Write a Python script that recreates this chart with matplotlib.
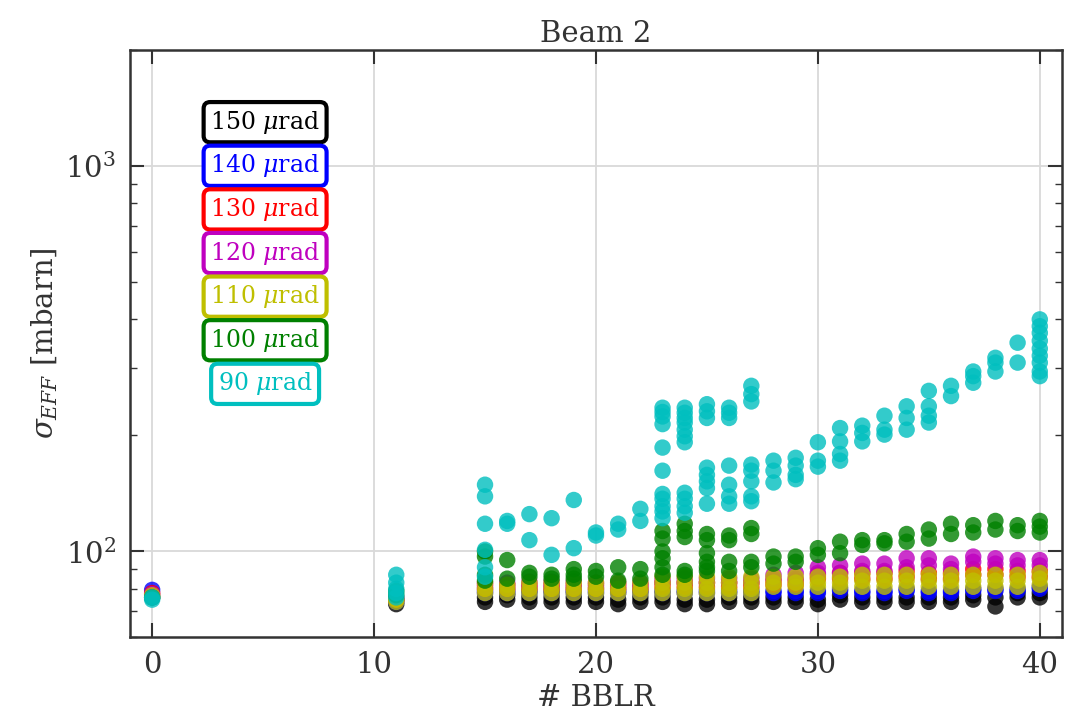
import matplotlib
matplotlib.use("Agg")
import matplotlib.pyplot as plt
from matplotlib.ticker import LogLocator, NullLocator

plt.rcParams['font.family'] = 'DejaVu Serif'
plt.rcParams['mathtext.fontset'] = 'dejavuserif'

# number of beam-beam long range encounters
bblr = [0, 11, 15, 16, 17, 18, 19, 20, 21, 22, 23, 24, 25, 26,
        27, 28, 29, 30, 31, 32, 33, 34, 35, 36, 37, 38, 39, 40]

# effective cross section [mbarn] per crossing angle, one list per bblr value
sig_150 = [[76], [73, 75], [74, 76], [75, 77], [74, 76], [74, 76], [74, 76],
           [74, 76], [73, 75], [74, 76], [74, 76], [73, 75], [73, 75], [74, 76],
           [74, 76], [74, 76], [74, 76], [73, 75], [75, 77], [74, 76], [74, 76],
           [74, 76], [74, 76], [74, 76], [75, 77], [72, 76], [76, 78], [76, 78]]
sig_140 = [[79.5], [74], [78, 79], [78, 79], [78, 79], [78, 79], [78, 79],
           [78, 79], [78, 79], [78, 79], [78, 79], [78, 79], [78, 79], [78, 79],
           [78, 79], [78, 79], [78, 79], [78, 79], [79, 80], [78, 79], [78, 79],
           [79, 80], [78, 79], [78, 79], [79, 80], [79, 80], [79, 80], [80, 81]]
sig_130 = [[78], [75], [82, 80], [82, 80], [82, 80], [82, 80], [82, 80],
           [82, 80], [82, 80], [82, 80], [83, 81], [83, 81], [83, 81], [83, 81],
           [83, 81], [84, 82], [84, 82], [87, 85], [88, 85], [88, 85], [88, 85],
           [89, 86], [88, 85], [88, 85], [90, 87], [90, 87], [89, 86], [89, 86]]
sig_120 = [[77.5], [76], [83, 81], [83, 81], [83.5, 81], [83.5, 81], [83.5, 81],
           [83, 81], [83, 81], [83, 81], [85, 83], [85, 83], [85, 83], [85, 83],
           [85, 83], [87, 85], [88, 85], [91, 88], [92, 88], [93, 89], [93, 89],
           [96, 91], [96, 92], [93, 90], [97, 94], [96, 93], [95, 92], [95, 92]]
sig_110 = [[77], [74, 75], [83, 80, 78], [82, 80, 78], [83, 80, 78], [83, 80, 78],
           [83, 80, 78], [83, 80, 78], [83, 80, 78], [83, 80, 78],
           [86, 83, 80, 78], [86, 83, 80, 78], [86, 83, 80, 78], [86, 83, 80, 78],
           [86, 83, 80, 78], [86, 83, 81], [86, 83, 81], [86, 83, 81], [86, 83, 81],
           [87, 84, 81], [87, 84, 81], [87, 84, 81], [87, 84, 81], [87, 84, 81],
           [87, 84, 81], [87, 84, 81], [87, 84, 81], [88, 85, 82]]
sig_100 = [[76], [77, 79], [100, 97, 87, 84], [95, 85], [88, 86], [87, 85],
           [90, 87, 85], [89, 86], [91, 84], [90, 85],
           [113, 108, 100, 96, 91, 87], [118, 113, 109, 89, 87],
           [111, 107, 99, 94, 91, 89], [110, 107, 94, 89], [115, 111, 94, 91],
           [97, 93], [97, 94], [102, 98], [106, 99], [107, 104], [107, 105],
           [111, 106], [114, 108], [118, 111], [117, 112], [120, 114], [117, 113],
           [120, 116, 112]]
sig_90 = [[75, 76], [76, 78, 80, 83, 87], [149, 139, 118, 101, 91, 86],
          [120, 118], [125, 107], [122, 98], [136, 102], [112, 110], [118, 114],
          [129, 120],
          [236, 230, 224, 214, 186, 162, 141, 137, 131, 127, 122],
          [236, 229, 222, 216, 207, 199, 192, 142, 137, 131, 126],
          [241, 231, 222, 165, 158, 152, 146, 133],
          [236, 229, 222, 167, 149, 139, 133],
          [269, 256, 245, 168, 162, 152, 139, 135],
          [172, 162, 151], [175, 167, 158, 154], [192, 172, 166],
          [209, 193, 179, 172], [212, 203, 193], [225, 207, 201],
          [238, 222, 207], [261, 238, 225, 216], [269, 253], [293, 285, 274],
          [318, 309, 293], [348, 309],
          [400, 384, 369, 352, 336, 322, 309, 293, 285]]

angles = [150, 140, 130, 120, 110, 100, 90]
colors = ['k', 'b', 'r', 'm', 'y', 'g', 'c']
all_sig = [sig_150, sig_140, sig_130, sig_120, sig_110, sig_100, sig_90]

fig = plt.figure(figsize=(10.67, 7.2), dpi=100)
ax = fig.add_axes([0.1218, 0.1153, 0.8735, 0.8153])

for ang, col, sig in zip(angles, colors, all_sig):
    xs = [b for b, vals in zip(bblr, sig) for _ in vals]
    ys = [v for vals in sig for v in vals]
    ax.scatter(xs, ys, s=140, color=col, alpha=0.8, edgecolors='none', zorder=3)

# coloured boxes used as a legend
for i, (ang, col) in enumerate(zip(angles, colors)):
    ax.text(0.145, 0.877 - i * 0.0743, str(ang) + r' $\mu$rad', color=col,
            fontsize=17, ha='center', va='center', transform=ax.transAxes,
            bbox=dict(boxstyle='round,pad=0.28', fc='white', ec=col, lw=3),
            zorder=5)

ax.set_yscale('log')
ax.set_xlim(-1, 41)
ax.set_ylim(60, 2000)
ax.set_xticks([0, 10, 20, 30, 40])
ax.xaxis.set_minor_locator(NullLocator())
ax.yaxis.set_minor_locator(LogLocator(base=10, subs=range(2, 10)))
ax.grid(True, which='major', color='#d9d9d9', lw=1.3)
ax.set_axisbelow(True)

ax.tick_params(which='both', direction='in', top=True, right=True,
               colors='#333333', labelsize=21)
ax.tick_params(which='major', length=10, width=1.5, pad=10)
ax.tick_params(which='minor', length=5, width=1)
for sp in ax.spines.values():
    sp.set_color('#333333')
    sp.set_linewidth(1.8)

ax.set_title('Beam 2', fontsize=21, color='#333333')
ax.set_xlabel('# BBLR', fontsize=21, color='#333333')
ax.set_ylabel(r'$\sigma_{EFF}$ [mbarn]', fontsize=21, color='#333333')

fig.savefig('out.png', dpi=100)
